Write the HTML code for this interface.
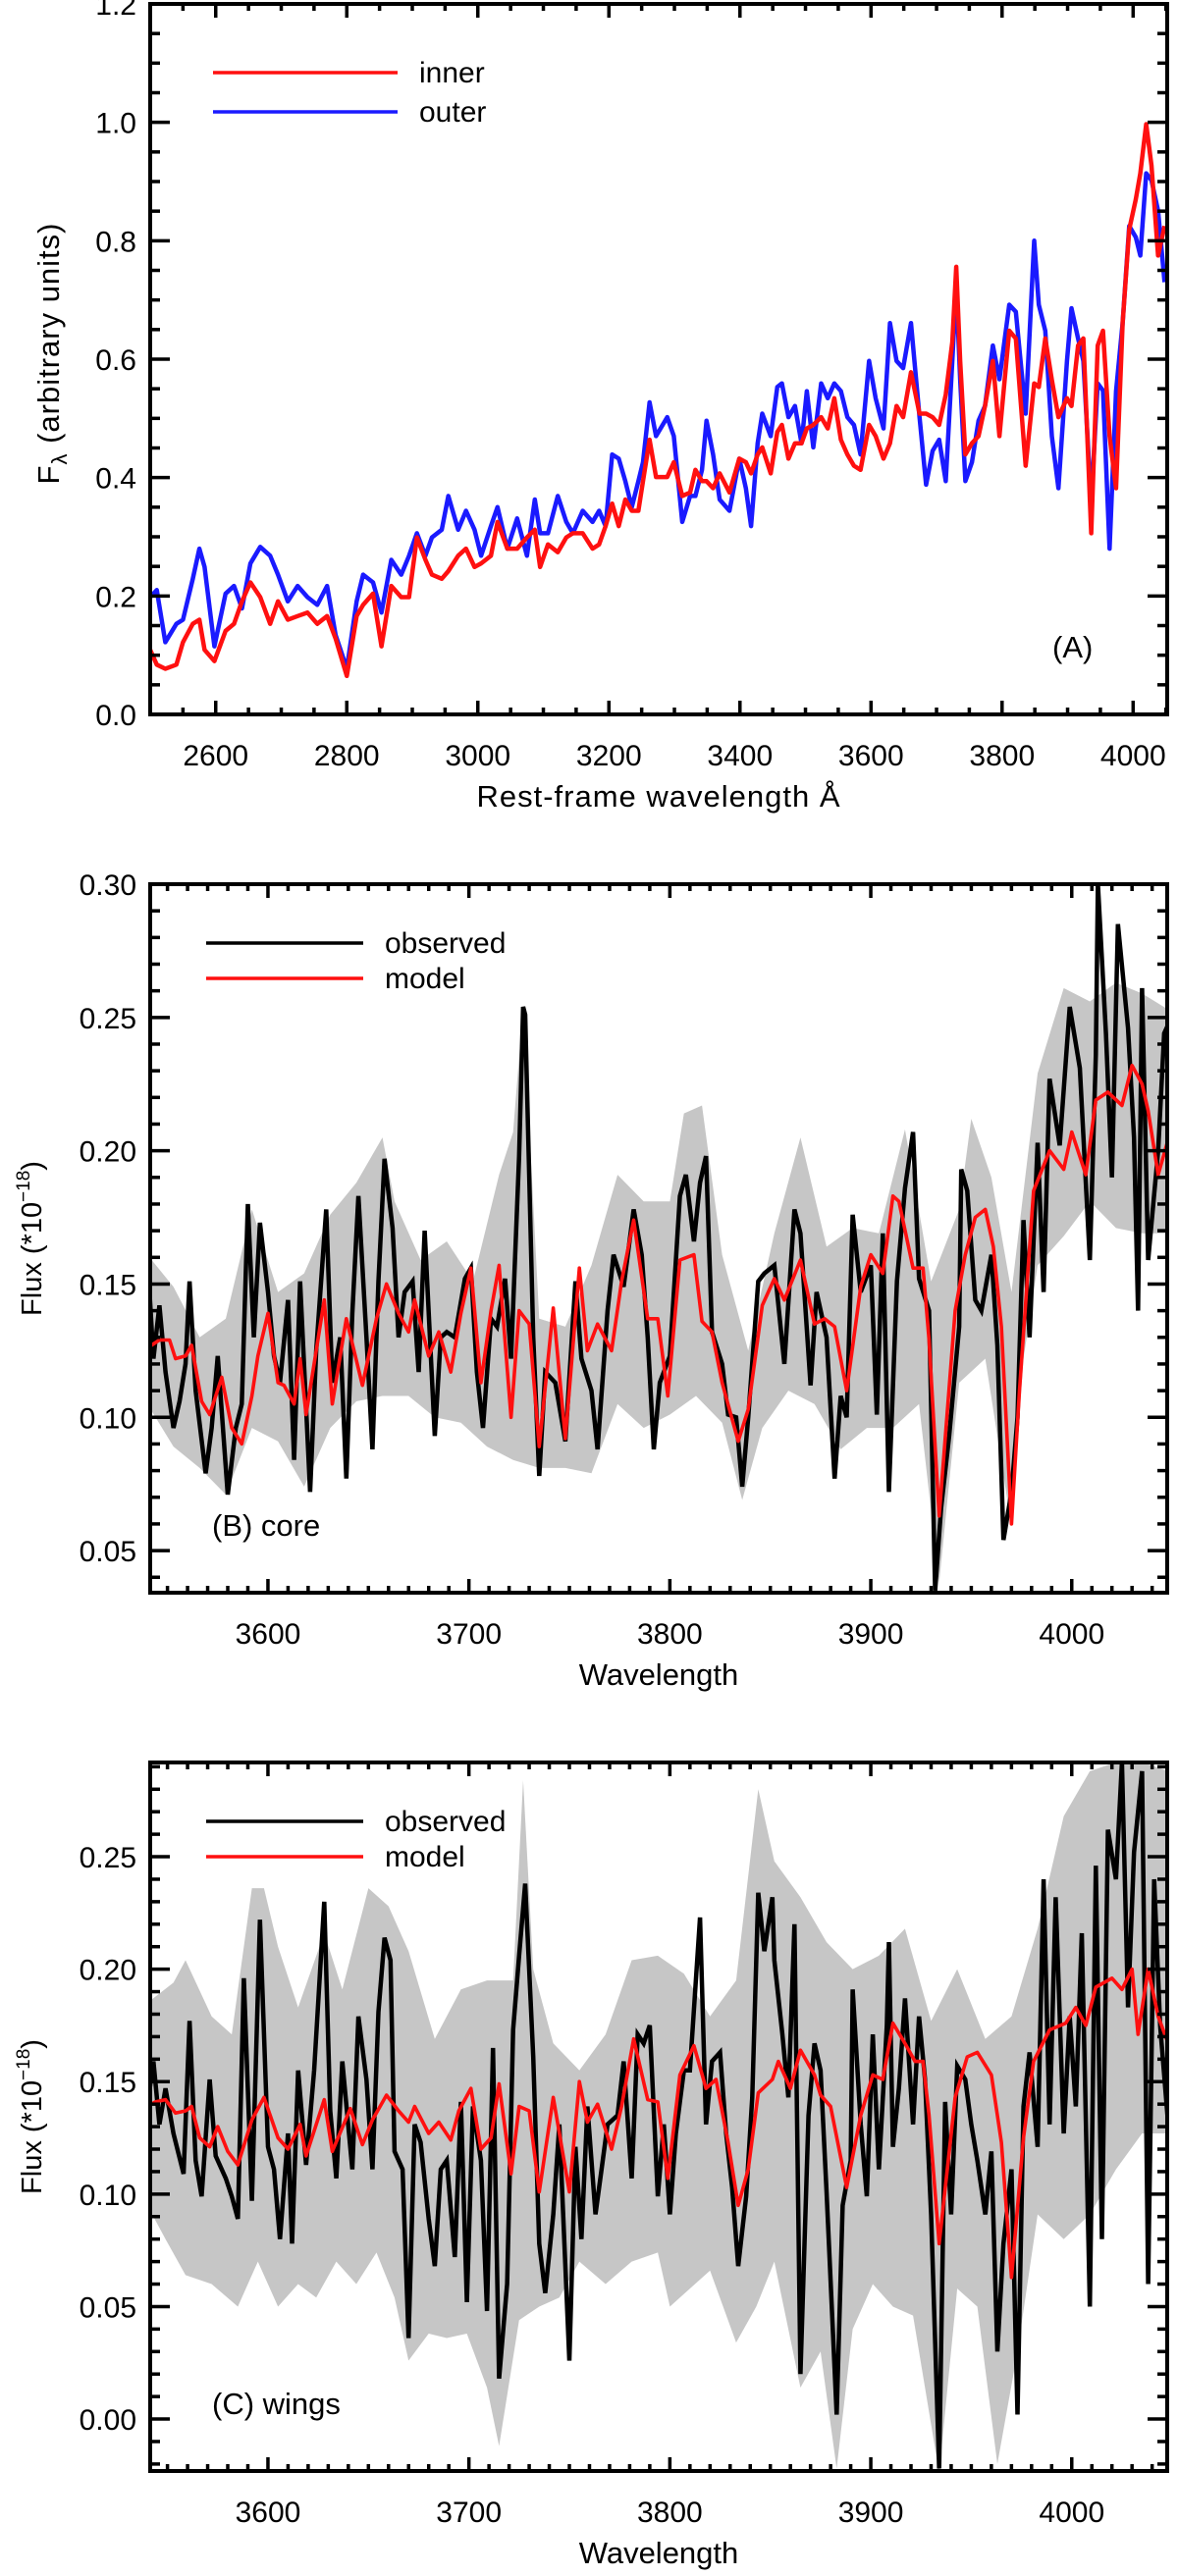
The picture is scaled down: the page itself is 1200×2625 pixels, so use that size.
<!DOCTYPE html>
<html><head><meta charset="utf-8"><title>Spectra</title>
<style>
html,body{margin:0;padding:0;background:#fff;}
svg{display:block;}
text{font-family:"Liberation Sans",sans-serif;fill:#000;}
</style></head>
<body>
<svg id="chart" width="1200" height="2625" viewBox="0 0 1200 2625" xmlns="http://www.w3.org/2000/svg"></svg>
<script>
// ---------- Panel A data ----------
const aWave = [2500,2510,2523,2540,2550,2565,2575,2583,2598,2615,2628,2640,2653,2668,2683,2695,2710,2725,2740,2755,2770,2783,2800,2815,2825,2840,2853,2868,2883,2895,2907,2920,2930,2945,2955,2970,2982,2995,3005,3020,3030,3045,3060,3075,3087,3095,3107,3122,3135,3145,3160,3175,3185,3195,3205,3215,3225,3235,3245,3252,3262,3272,
3289,3299,3312,3324,3332,3342,3349,3359,3369,3384,3399,3409,3417,3427,3434,3447,3457,3464,3474,3484,3494,3502,3512,3524,3534,3544,3554,3564,3574,3584,3597,3607,3619,3629,3639,3649,3661,3674,3684,3694,3704,3714,3724,3730,3736,3744,3754,3764,3774,3786,3796,3811,3821,3836,3849,3856,3866,3876,3886,3899,3906,3916,3924,3936,3946,3954,3964,3974,3984,3994,4004,4011,4020,4028,4038,4048];
const aInner = [0.109,0.084,0.077,0.084,0.122,0.153,0.160,0.109,0.090,0.141,0.153,0.191,0.223,0.198,0.153,0.191,0.160,0.166,0.172,0.153,0.166,0.128,0.065,0.166,0.185,0.204,0.115,0.217,0.198,0.198,0.299,0.261,0.236,0.229,0.242,0.268,0.280,0.249,0.255,0.268,0.325,0.280,0.280,0.299,0.312,0.249,0.287,0.274,0.299,0.306,0.306,0.280,0.287,0.318,0.356,0.318,0.363,0.344,0.344,0.394,0.464,0.401,
0.401,0.426,0.369,0.375,0.413,0.394,0.394,0.382,0.407,0.375,0.432,0.426,0.407,0.439,0.451,0.407,0.477,0.489,0.432,0.458,0.458,0.483,0.489,0.502,0.483,0.534,0.464,0.439,0.420,0.413,0.489,0.470,0.432,0.458,0.521,0.502,0.578,0.508,0.508,0.502,0.489,0.540,0.629,0.756,0.597,0.439,0.458,0.470,0.521,0.597,0.470,0.648,0.635,0.420,0.559,0.553,0.635,0.565,0.502,0.534,0.521,0.623,0.635,0.306,0.623,0.648,0.470,0.382,0.661,0.819,0.870,0.914,0.997,0.927,0.775,0.825];
const aOuter = [0.198,0.210,0.122,0.153,0.160,0.229,0.280,0.249,0.115,0.204,0.217,0.179,0.255,0.283,0.268,0.236,0.191,0.217,0.198,0.185,0.217,0.134,0.077,0.191,0.236,0.223,0.172,0.261,0.236,0.268,0.306,0.268,0.299,0.312,0.369,0.312,0.344,0.312,0.268,0.318,0.350,0.280,0.331,0.268,0.363,0.306,0.306,0.369,0.325,0.306,0.344,0.325,0.344,0.318,0.439,0.432,0.394,0.350,0.394,0.426,0.527,0.470,
0.502,0.470,0.325,0.369,0.369,0.413,0.496,0.439,0.363,0.344,0.432,0.382,0.318,0.458,0.508,0.470,0.553,0.559,0.502,0.521,0.458,0.546,0.451,0.559,0.534,0.559,0.546,0.502,0.489,0.439,0.597,0.534,0.483,0.661,0.597,0.585,0.661,0.502,0.388,0.445,0.464,0.394,0.597,0.724,0.566,0.394,0.426,0.496,0.521,0.623,0.566,0.692,0.680,0.508,0.800,0.692,0.648,0.470,0.382,0.597,0.686,0.635,0.597,0.356,0.559,0.547,0.280,0.546,0.661,0.825,0.806,0.775,0.914,0.902,0.851,0.730];
const aXTicks = [2600,2800,3000,3200,3400,3600,3800,4000];
const aYTicks = ["0.0","0.2","0.4","0.6","0.8","1.0","1.2"];

// ---------- Panel B data ----------
const bModelWave = [3540,3546,3551,3554,3559,3562,3567,3571,3577,3582,3587,3592,3595,3600,3605,3608,3613,3616,3619,3628,3632,3639,3647,3654,3659,3665,3670,3673,3680,3685,3691,3696,3701,3706,3711,3715,3721,3725,3730,3735,3742,3748,3755,3759,3764,3771,3776,3782,3789,3794,3799,3805,3812,3816,3821,3826,3834,3839,3846,3852,3857,3865,3872,3877,3882,3888,3895,3900,3906,3911,3914,3921,3926,3929,3934,3942,3947,3952,3957,3961,3965,3970,3974,3981,3989,3996,4000,4007,4012,4018,4025,4030,4035,4038,4043,4049];
const bModel = [0.126,0.129,0.129,0.122,0.123,0.127,0.106,0.101,0.115,0.096,0.090,0.108,0.123,0.139,0.113,0.112,0.105,0.122,0.101,0.144,0.105,0.137,0.112,0.137,0.150,0.139,0.132,0.144,0.123,0.132,0.117,0.139,0.156,0.113,0.140,0.157,0.100,0.140,0.135,0.089,0.141,0.092,0.156,0.125,0.135,0.125,0.151,0.174,0.137,0.137,0.108,0.159,0.161,0.136,0.132,0.113,0.091,0.103,0.142,0.152,0.144,0.159,0.135,0.137,0.134,0.110,0.149,0.161,0.154,0.183,0.181,0.156,0.156,0.129,0.063,0.140,0.161,0.175,0.178,0.164,0.134,0.060,0.110,0.185,0.200,0.193,0.207,0.191,0.219,0.222,0.217,0.232,0.225,0.215,0.191,0.207];
const bObsWave = [3540,3543,3546,3549,3553,3556,3559,3561,3564,3569,3572,3575,3580,3584,3587,3590,3593,3596,3600,3603,3606,3610,3613,3616,3621,3624,3629,3632,3636,3639,3642,3645,3649,3652,3655,3658,3662,3665,3668,3672,3675,3678,3683,3686,3689,3693,3698,3701,3704,3707,3711,3714,3718,3721,3725,3727,3728,3732,3735,3738,3743,3748,3753,3756,3761,3764,3769,3772,3777,3782,3786,3789,3792,3795,3800,3805,3808,3812,3815,3818,3821,3826,3829,3833,3836,3839,3844,3847,3852,3857,3862,3865,3870,3873,3878,3882,3885,3888,3891,3895,3900,3903,3906,3909,3913,3917,3921,3924,3929,3932,3935,3939,3944,3945,3948,3952,3955,3960,3963,3966,3970,3973,3976,3979,3983,3986,3989,3994,3999,4004,4009,4012,4013,4017,4020,4023,4028,4031,4033,4035,4038,4043,4046,4049];
const bObs = [0.161,0.122,0.142,0.117,0.096,0.106,0.120,0.151,0.110,0.079,0.096,0.123,0.071,0.096,0.105,0.180,0.130,0.173,0.147,0.123,0.113,0.144,0.084,0.151,0.072,0.125,0.178,0.113,0.130,0.077,0.139,0.183,0.130,0.088,0.151,0.197,0.171,0.130,0.147,0.151,0.117,0.170,0.093,0.130,0.132,0.130,0.152,0.156,0.117,0.096,0.137,0.134,0.152,0.122,0.198,0.254,0.251,0.130,0.078,0.117,0.113,0.091,0.151,0.122,0.110,0.088,0.140,0.161,0.149,0.178,0.161,0.130,0.088,0.113,0.123,0.183,0.191,0.166,0.188,0.198,0.132,0.120,0.101,0.100,0.074,0.100,0.151,0.154,0.157,0.120,0.178,0.169,0.112,0.147,0.130,0.077,0.108,0.100,0.176,0.147,0.157,0.101,0.169,0.072,0.151,0.186,0.207,0.152,0.140,0.035,0.066,0.093,0.134,0.193,0.185,0.144,0.140,0.161,0.127,0.054,0.072,0.100,0.174,0.130,0.203,0.147,0.227,0.202,0.254,0.231,0.159,0.236,0.300,0.244,0.190,0.285,0.246,0.205,0.140,0.261,0.159,0.200,0.244,0.249];
const bHiWave = [3540,3553,3566,3579,3592,3605,3618,3631,3644,3657,3663,3676,3689,3702,3715,3722,3727,3735,3748,3761,3774,3787,3800,3807,3816,3826,3839,3852,3865,3878,3891,3904,3917,3930,3944,3950,3960,3970,3983,3996,4009,4022,4035,4048];
const bHi = [0.161,0.149,0.130,0.137,0.178,0.147,0.154,0.176,0.188,0.205,0.181,0.159,0.166,0.151,0.191,0.207,0.254,0.137,0.134,0.157,0.191,0.181,0.181,0.214,0.217,0.161,0.125,0.169,0.205,0.164,0.171,0.169,0.208,0.151,0.178,0.212,0.190,0.147,0.229,0.261,0.256,0.263,0.259,0.253];
const bLoWave = [3540,3553,3566,3579,3592,3605,3618,3631,3644,3657,3670,3683,3696,3709,3722,3735,3748,3761,3774,3787,3800,3813,3826,3836,3846,3859,3872,3885,3898,3911,3924,3934,3944,3957,3970,3976,3983,3996,4009,4022,4035,4048];
const bLo = [0.105,0.089,0.081,0.071,0.096,0.091,0.074,0.096,0.106,0.108,0.108,0.100,0.098,0.089,0.084,0.081,0.081,0.079,0.105,0.096,0.101,0.108,0.098,0.069,0.096,0.110,0.105,0.088,0.096,0.096,0.105,0.038,0.113,0.122,0.059,0.122,0.157,0.168,0.181,0.171,0.169,0.169];
const bXTicks = [3600,3700,3800,3900,4000];
const bYTicks = ["0.05","0.10","0.15","0.20","0.25","0.30"];

// ---------- Panel C data ----------
const cModelWave = [3540,3544,3549,3554,3559,3562,3566,3571,3575,3580,3585,3592,3598,3605,3610,3616,3619,3628,3632,3641,3647,3652,3659,3665,3670,3673,3680,3685,3691,3695,3701,3706,3711,3715,3721,3725,3730,3735,3742,3750,3755,3759,3764,3771,3776,3782,3789,3794,3799,3805,3812,3818,3823,3829,3834,3839,3844,3851,3854,3860,3865,3872,3875,3880,3888,3895,3901,3906,3911,3917,3922,3926,3929,3934,3942,3948,3953,3960,3965,3970,3976,3981,3989,3997,4002,4007,4012,4020,4025,4030,4033,4038,4043,4048];
const cModel = [0.139,0.141,0.142,0.136,0.137,0.139,0.125,0.121,0.130,0.119,0.113,0.133,0.143,0.125,0.120,0.131,0.117,0.142,0.119,0.138,0.122,0.133,0.144,0.137,0.132,0.139,0.127,0.132,0.124,0.137,0.147,0.120,0.125,0.149,0.109,0.139,0.137,0.101,0.143,0.101,0.150,0.132,0.140,0.120,0.139,0.169,0.142,0.141,0.107,0.153,0.166,0.147,0.151,0.123,0.095,0.111,0.145,0.151,0.159,0.147,0.164,0.153,0.144,0.139,0.103,0.135,0.153,0.151,0.176,0.167,0.159,0.159,0.135,0.078,0.143,0.161,0.163,0.153,0.123,0.063,0.125,0.159,0.173,0.176,0.183,0.175,0.192,0.196,0.191,0.200,0.171,0.200,0.179,0.167];
const cObsWave = [3540,3543,3546,3549,3553,3558,3561,3564,3567,3571,3574,3579,3582,3585,3588,3592,3596,3600,3603,3606,3610,3612,3615,3619,3623,3628,3631,3634,3637,3642,3645,3649,3652,3655,3658,3661,3663,3667,3670,3673,3676,3680,3683,3686,3689,3693,3696,3699,3702,3706,3709,3712,3715,3719,3722,3725,3728,3732,3735,3738,3742,3745,3750,3753,3756,3759,3763,3766,3769,3774,3777,3781,3784,3787,3790,3794,3797,3800,3803,3807,3810,3815,3818,3821,3825,3828,3831,3834,3838,3841,3844,3847,3851,3852,3856,3859,3862,3865,3869,3872,3875,3878,3883,3886,3890,3891,3895,3898,3901,3904,3908,3909,3911,3914,3917,3921,3924,3927,3930,3934,3937,3940,3943,3947,3950,3953,3957,3960,3963,3966,3970,3973,3976,3979,3983,3986,3989,3992,3996,3999,4002,4005,4009,4012,4015,4018,4022,4025,4028,4031,4035,4038,4041,4044,4048];
const cObs = [0.139,0.159,0.131,0.147,0.127,0.109,0.177,0.115,0.099,0.151,0.117,0.107,0.099,0.089,0.196,0.097,0.222,0.121,0.111,0.080,0.127,0.078,0.155,0.113,0.155,0.230,0.137,0.107,0.159,0.111,0.179,0.151,0.111,0.181,0.214,0.204,0.119,0.111,0.036,0.131,0.123,0.089,0.068,0.111,0.115,0.072,0.141,0.052,0.139,0.115,0.048,0.165,0.018,0.060,0.173,0.206,0.238,0.161,0.078,0.056,0.091,0.131,0.026,0.121,0.080,0.139,0.091,0.111,0.131,0.135,0.159,0.107,0.171,0.167,0.175,0.099,0.131,0.091,0.127,0.155,0.155,0.223,0.131,0.159,0.163,0.127,0.103,0.068,0.099,0.143,0.234,0.208,0.232,0.204,0.171,0.143,0.220,0.020,0.135,0.167,0.155,0.101,0.002,0.095,0.115,0.191,0.131,0.099,0.171,0.111,0.175,0.212,0.121,0.147,0.187,0.131,0.179,0.151,0.091,-0.022,0.141,0.091,0.157,0.151,0.131,0.115,0.091,0.119,0.030,0.078,0.111,0.002,0.139,0.163,0.121,0.240,0.131,0.232,0.127,0.179,0.139,0.216,0.050,0.246,0.080,0.262,0.240,0.292,0.183,0.252,0.288,0.060,0.240,0.175,0.131];
const cHiWave = [3540,3553,3559,3572,3582,3592,3598,3605,3615,3628,3637,3650,3660,3670,3683,3696,3709,3722,3727,3732,3742,3755,3768,3781,3794,3807,3820,3833,3844,3852,3865,3878,3891,3904,3917,3930,3943,3957,3970,3983,3996,4009,4022,4035,4048];
const cHi = [0.185,0.194,0.204,0.179,0.171,0.236,0.236,0.210,0.183,0.216,0.191,0.236,0.228,0.208,0.169,0.191,0.195,0.195,0.284,0.200,0.167,0.155,0.171,0.204,0.206,0.198,0.179,0.195,0.280,0.248,0.232,0.212,0.200,0.206,0.218,0.177,0.200,0.169,0.179,0.218,0.268,0.288,0.292,0.292,0.288];
const cLoWave = [3540,3549,3559,3572,3585,3595,3605,3615,3624,3634,3644,3654,3663,3670,3680,3689,3699,3709,3715,3725,3735,3745,3755,3768,3781,3794,3800,3810,3820,3833,3843,3852,3865,3875,3883,3891,3901,3911,3921,3934,3943,3953,3963,3973,3983,3996,4009,4022,4035,4048];
const cLo = [0.095,0.080,0.064,0.060,0.050,0.070,0.050,0.060,0.054,0.070,0.060,0.074,0.054,0.026,0.038,0.036,0.038,0.014,-0.012,0.044,0.050,0.054,0.070,0.060,0.070,0.074,0.050,0.058,0.066,0.034,0.050,0.070,0.014,0.030,-0.022,0.040,0.060,0.050,0.046,-0.024,0.058,0.050,-0.020,0.030,0.091,0.080,0.091,0.111,0.127,0.127];
const cXTicks = [3600,3700,3800,3900,4000];
const cYTicks = ["0.00","0.05","0.10","0.15","0.20","0.25"];

const NS = "http://www.w3.org/2000/svg";
const svg = document.getElementById('chart');
function mk(tag, attrs, parent) {
  const e = document.createElementNS(NS, tag);
  for (const k in attrs) e.setAttribute(k, attrs[k]);
  (parent || svg).appendChild(e);
  return e;
}
function scales(p) {
  return {
    sx: v => p.x0 + (v - p.xmin) / (p.xmax - p.xmin) * (p.x1 - p.x0),
    sy: v => p.y1 - (v - p.ymin) / (p.ymax - p.ymin) * (p.y1 - p.y0)
  };
}
function linePath(s, xs, ys) {
  const n = Math.min(xs.length, ys.length);
  let d = "";
  for (let i = 0; i < n; i++) d += (i ? "L" : "M") + s.sx(xs[i]).toFixed(1) + "," + s.sy(ys[i]).toFixed(1);
  return d;
}
function bandPath(s, hx, hy, lx, ly) {
  let d = "";
  const n = Math.min(hx.length, hy.length);
  for (let i = 0; i < n; i++) d += (i ? "L" : "M") + s.sx(hx[i]).toFixed(1) + "," + s.sy(hy[i]).toFixed(1);
  const m = Math.min(lx.length, ly.length);
  for (let i = m - 1; i >= 0; i--) d += "L" + s.sx(lx[i]).toFixed(1) + "," + s.sy(ly[i]).toFixed(1);
  return d + "Z";
}

function axes(p, s, g, xTicks, yTicks, xMinorStep, yMinorStep, xMajStep, yMajStep) {
  for (let v = Math.ceil(p.xmin / xMinorStep) * xMinorStep; v <= p.xmax; v += xMinorStep) {
    const isMaj = Math.abs(v / xMajStep - Math.round(v / xMajStep)) < 1e-6;
    const L = isMaj ? 14 : 7;
    const x = s.sx(v);
    const t1 = mk('line', {x1:x, x2:x, y1:p.y1, y2:p.y1 - L, stroke:'#000', 'stroke-width':3.5}, g);
    
    
    const t2 = mk('line', {x1:x, x2:x, y1:p.y0, y2:p.y0 + L, stroke:'#000', 'stroke-width':3.5}, g);
    
    
  }
  for (let v = Math.ceil(p.ymin / yMinorStep - 1e-6) * yMinorStep; v <= p.ymax + 1e-9; v += yMinorStep) {
    const isMaj = Math.abs(v / yMajStep - Math.round(v / yMajStep)) < 1e-6;
    const L = isMaj ? 20 : 10;
    const y = s.sy(v);
    const t1 = mk('line', {x1:p.x0, x2:p.x0 + L, y1:y, y2:y, stroke:'#000', 'stroke-width':3.5}, g);
    
    
    const t2 = mk('line', {x1:p.x1, x2:p.x1 - L, y1:y, y2:y, stroke:'#000', 'stroke-width':3.5}, g);
    
    
  }
  xTicks.forEach(v => {
    const t = mk('text', {x:s.sx(v), y:p.y1 + 52, 'font-size':30, 'text-anchor':'middle'}, g);
    
    
    t.textContent = v;
  });
  yTicks.forEach(lbl => {
    const t = mk('text', {x:139, y:s.sy(parseFloat(lbl)) + 11, 'font-size':30, 'text-anchor':'end'}, g);
    
    
    t.textContent = lbl;
  });
  const fr = mk('rect', {x:p.x0, y:p.y0, width:p.x1 - p.x0, height:p.y1 - p.y0, fill:'none', stroke:'#000', 'stroke-width':4}, g);
  
  
}
function clipFor(p, id) {
  const cp = mk('clipPath', {id:id});
  mk('rect', {x:p.x0, y:p.y0, width:p.x1 - p.x0, height:p.y1 - p.y0}, cp);
}
function legendEntry(g, x1, x2, y, color, label, name) {
  const l = mk('line', {x1:x1, x2:x2, y1:y, y2:y, stroke:color, 'stroke-width':3.5}, g);
  
  
  const t = mk('text', {x:x2 + 22, y:y + 10, 'font-size':30}, g);
  
  
  t.textContent = label;
}

// ================= Panel A =================
const pA = {x0:153, x1:1189, y0:4, y1:728, xmin:2500, xmax:4052, ymin:0, ymax:1.2};
const sA = scales(pA);
const gA = mk('g', {});


clipFor(pA, 'clipA');
const gAd = mk('g', {'clip-path':'url(#clipA)'}, gA);
const lineOuter = mk('path', {d:linePath(sA, aWave, aOuter), fill:'none', stroke:'#1a1aff', 'stroke-width':4.5, 'stroke-linejoin':'round'}, gAd);


const lineInner = mk('path', {d:linePath(sA, aWave, aInner), fill:'none', stroke:'#ff1010', 'stroke-width':4.5, 'stroke-linejoin':'round'}, gAd);


axes(pA, sA, gA, aXTicks, aYTicks, 50, 0.05, 200, 0.2);
legendEntry(gA, 217, 405, 74, '#ff1010', 'inner', 'inner');
legendEntry(gA, 217, 405, 114, '#1a1aff', 'outer', 'outer');
const tagA = mk('text', {x:1072, y:670, 'font-size':31}, gA);


tagA.textContent = '(A)';
const xtA = mk('text', {x:671, y:822, 'font-size':31, 'text-anchor':'middle', 'letter-spacing':1}, gA);


xtA.textContent = 'Rest-frame wavelength Å';
const ytA = mk('text', {transform:'translate(60,360) rotate(-90)', 'font-size':31, 'text-anchor':'middle', 'letter-spacing':1}, gA);


ytA.innerHTML = 'F<tspan font-size="22" dy="8">λ</tspan><tspan dy="-8"> (arbitrary units)</tspan>';

// ================= Panel B / C =================
function spectrumPanel(p, id, hw, hi, lw, lo, ow, ob, mw, mo, xt, yt, tag, tagY) {
  const s = scales(p);
  const g = mk('g', {});
  
  
  clipFor(p, 'clip' + id);
  const gd = mk('g', {'clip-path':'url(#clip' + id + ')'}, g);
  const band = mk('path', {d:bandPath(s, hw, hi, lw, lo), fill:'#c6c6c6', stroke:'none'}, gd);
  
  
  const obs = mk('path', {d:linePath(s, ow, ob), fill:'none', stroke:'#000', 'stroke-width':4.5, 'stroke-linejoin':'miter'}, gd);
  
  
  const mod = mk('path', {d:linePath(s, mw, mo), fill:'none', stroke:'#ff1010', 'stroke-width':3.6, 'stroke-linejoin':'round'}, gd);
  
  
  axes(p, s, g, xt, yt, 10, 0.01, 100, 0.05);
  legendEntry(g, 210, 370, p.y0 + 60, '#000', 'observed', 'observed');
  legendEntry(g, 210, 370, p.y0 + 96, '#ff1010', 'model', 'model');
  const tg = mk('text', {x:216, y:tagY, 'font-size':31}, g);
  
  
  tg.textContent = tag;
  const xt2 = mk('text', {x:671, y:p.y1 + 94, 'font-size':31, 'text-anchor':'middle'}, g);
  
  
  xt2.textContent = 'Wavelength';
  const yt2 = mk('text', {transform:'translate(42,' + ((p.y0 + p.y1) / 2) + ') rotate(-90)', 'font-size':29, 'text-anchor':'middle'}, g);
  
  
  yt2.innerHTML = 'Flux (*10<tspan font-size="19" dy="-12">−18</tspan><tspan dy="12">)</tspan>';
}
const pB = {x0:153, x1:1189, y0:901, y1:1623, xmin:3541.4, xmax:4047.5, ymin:0.0342, ymax:0.30};
spectrumPanel(pB, 'b', bHiWave, bHi, bLoWave, bLo, bObsWave, bObs, bModelWave, bModel, bXTicks, bYTicks, '(B)  core', 1565);
const pC = {x0:153, x1:1189, y0:1796, y1:2518, xmin:3541.4, xmax:4047.5, ymin:-0.0231, ymax:0.2919};
spectrumPanel(pC, 'c', cHiWave, cHi, cLoWave, cLo, cObsWave, cObs, cModelWave, cModel, cXTicks, cYTicks, '(C)  wings', 2460);
</script>
</body></html>
